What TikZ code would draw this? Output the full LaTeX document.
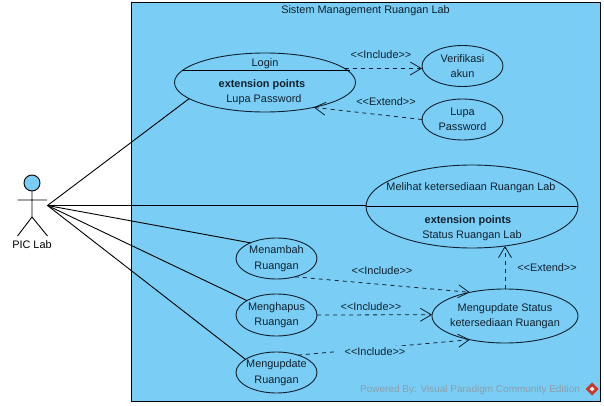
\documentclass[tikz,border=0pt]{standalone}
\usepackage{fontspec}
\setmainfont{Liberation Sans}
\usetikzlibrary{shapes.geometric,arrows.meta}
\definecolor{sysblue}{HTML}{7ACEF5}
\definecolor{inkdark}{HTML}{10202E}
\definecolor{wmgray}{HTML}{8C9CA8}
\definecolor{logored}{HTML}{C8392B}
\tikzset{
  uc/.style={draw=inkdark,line width=0.9pt,ellipse,inner xsep=-16pt,inner ysep=-10pt,outer sep=0pt,align=center,text=inkdark,font=\fontsize{10.9}{15.5}\selectfont},
  small/.style={uc,minimum width=81pt,minimum height=41pt},
  txt/.style={inner sep=0pt,text=inkdark,font=\fontsize{10.9}{12}\selectfont},
  boldtxt/.style={txt,font=\fontsize{10.9}{12}\selectfont\bfseries},
  assoc/.style={draw=black,line width=0.9pt},
  dep/.style={draw=inkdark,line width=0.8pt,dash pattern=on 4pt off 4pt,-{Straight Barb[length=11pt,width=13pt,line width=0.8pt]}},
  sep/.style={draw=black,line width=0.9pt},
}
\begin{document}
\begin{tikzpicture}[x=1pt,y=-1pt]
\useasboundingbox (0,0) rectangle (604,406);
\node[draw=black,line width=0.9pt,fill=sysblue,minimum width=469pt,minimum height=399pt,inner sep=0pt,outer sep=0pt] (sys) at (365.5,201.5) {};
\node[txt] (systitle) at (365.5,10.5) {Sistem Management Ruangan Lab};
% use cases
\node[uc,minimum width=181pt,minimum height=59pt] (login) at (265,82.5) {};
\node[txt] (logint) at (265,63.5) {Login};
\node[boldtxt] (loginx) at (262,84.5) {extension points};
\node[txt] (loginp) at (264,99.5) {Lupa Password};
\draw[sep] (login.172.93) -- (login.172.93 -| login.7.07);
\node[small] (verif) at (462.5,66) {Verifikasi\\akun};
\node[small] (lupa) at (462.5,119.5) {Lupa\\Password};
\node[uc,minimum width=212pt,minimum height=83pt] (lihat) at (472,206.5) {};
\node[txt] (lihatt) at (471,187.5) {Melihat ketersediaan Ruangan Lab};
\node[boldtxt] (lihatx) at (468,220.5) {extension points};
\node[txt] (lihatp) at (472,235.5) {Status Ruangan Lab};
\draw[sep] (lihat.180.8) -- (lihat.180.8 -| lihat.-0.8);
\node[small] (tambah) at (276.5,258.5) {Menambah\\Ruangan};
\node[small,minimum height=42pt] (hapus) at (276.5,315) {Menghapus\\Ruangan};
\node[small] (update) at (276.5,372.5) {Mengupdate\\Ruangan};
\node[uc,minimum width=146pt,minimum height=54pt] (status) at (505,316) {Mengupdate Status\\ketersediaan Ruangan};
% actor
\node[draw=black,line width=0.9pt,fill=sysblue,circle,minimum size=16pt,inner sep=0pt,outer sep=0pt] (head) at (32,183) {};
\coordinate (hip) at (32,217);
\coordinate (armL) at (17.5,200);
\coordinate (armR) at (47,200);
\coordinate (legL) at (17.5,236);
\coordinate (legR) at (47.5,236);
\coordinate (actor) at (47.5,205.5);
\draw[assoc] (head.south) -- (hip) (armL) -- (armR) (legL) -- (hip) -- (legR);
\node[txt,text=black] (actorname) at (32,244.5) {PIC Lab};
% associations
\draw[assoc] (actor) -- (login.192.4);
\draw[assoc] (actor) -- (actor -| lihat.west);
\draw[assoc] (actor) -- (tambah.149.7);
\draw[assoc] (actor) -- (hapus.154.4);
\draw[assoc] (actor) -- (update.157.7);
% dependencies
\draw[dep] (login.10.4) -- (login.10.4 -| verif.west);
\node[txt] (l1) at (381,55) {<{}<Include>{}>};
\draw[dep] (lupa.180) -- (login.333);
\node[txt] (l2) at (386,102) {<{}<Extend>{}>};
\draw[dep] (status.90) -- (status.90 |- lihat.310);
\node[txt] (l3) at (547,268) {<{}<Extend>{}>};
\draw[dep] (tambah.315.5) -- (status.146);
\node[txt] (l4) at (382,271) {<{}<Include>{}>};
\draw[dep] (hapus.0) -- (status.179.2);
\node[txt] (l5) at (371,307) {<{}<Include>{}>};
\draw[dep] (update.39) -- (status.214);
\node[txt,fill=sysblue,inner xsep=9pt,inner ysep=2pt] (l6) at (375,352) {<{}<Include>{}>};
% watermark
\node[txt,text=wmgray,anchor=west,font=\fontsize{10}{12}\selectfont] (wm) at (360,390) {Powered By: Visual Paradigm Community Edition};
\fill[logored] (592,382.5) -- (598.5,389) -- (592,395.5) -- (585.5,389) -- cycle;
\fill[white!85!logored] (592,386.5) -- (594.5,389) -- (592,391.5) -- (589.5,389) -- cycle;
\end{tikzpicture}
\end{document}
